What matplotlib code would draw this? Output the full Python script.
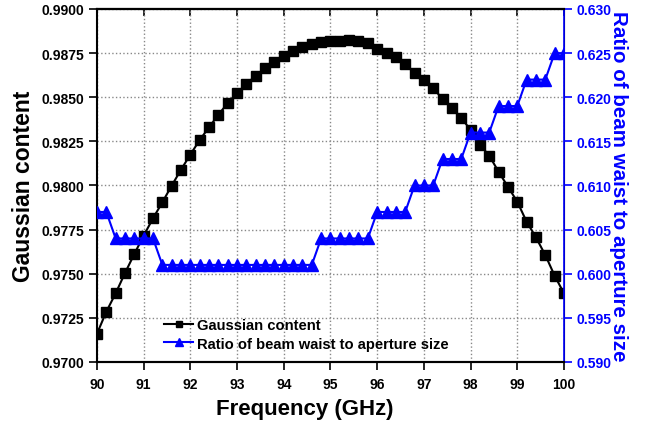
import matplotlib.pyplot as plt
import numpy as np

plt.rcParams['font.family'] = ['Liberation Sans', 'DejaVu Sans']
plt.rcParams['font.weight'] = 'bold'

# 频率 90-100 GHz, 步长 0.2
freq = np.round(np.arange(90, 100.01, 0.2), 1)

gauss = [0.9716, 0.97285, 0.97389, 0.97504, 0.97612, 0.97716, 0.97814, 0.97905, 0.97999, 0.98090,
         0.98175, 0.98258, 0.98330, 0.98401, 0.98467, 0.98524, 0.98575, 0.98622, 0.98663, 0.98700,
         0.98731, 0.98760, 0.98782, 0.98802, 0.98811, 0.98820, 0.98820, 0.98824, 0.98817, 0.98805,
         0.98773, 0.98751, 0.98726, 0.98688, 0.98637, 0.98599, 0.98552, 0.98490, 0.98440, 0.98383,
         0.98315, 0.98231, 0.98169, 0.98078, 0.97993, 0.97908, 0.97795, 0.97706, 0.97606, 0.97489,
         0.97389]

ratio = [0.607] * 2 + [0.604] * 5 + [0.601] * 17 + [0.604] * 6 + [0.607] * 4 + \
        [0.610] * 3 + [0.613] * 3 + [0.616] * 3 + [0.619] * 3 + [0.622] * 3 + [0.625] * 2

blue = '#0000ff'

fig = plt.figure(figsize=(6.57, 4.27), dpi=100)
ax = fig.add_axes([0.1476, 0.1499, 0.7108, 0.8267])
ax2 = ax.twinx()

l1, = ax.plot(freq, gauss, color='black', marker='s', markersize=6.5, lw=1.5,
              label='Gaussian content')
l2, = ax2.plot(freq, ratio, color=blue, marker='^', markersize=8, lw=1.5,
               label='Ratio of beam waist to aperture size')

ax.set_xlim(90, 100)
ax.set_ylim(0.97, 0.99)
ax2.set_ylim(0.59, 0.63)
ax.set_xticks(range(90, 101))
ax.set_yticks(np.arange(0.97, 0.99001, 0.0025))
ax.set_yticklabels(['%.4f' % v for v in np.arange(0.97, 0.99001, 0.0025)])
ax2.set_yticks(np.arange(0.59, 0.63001, 0.005))
ax2.set_yticklabels(['%.3f' % v for v in np.arange(0.59, 0.63001, 0.005)])

ax.grid(True, linestyle=':', color='#888888', lw=1)
ax.tick_params(axis='both', direction='out', length=6, width=1.2, labelsize=10, pad=3)
ax.tick_params(axis='x', pad=5)
ax2.tick_params(axis='y', direction='out', length=6, width=1.2, labelsize=10, pad=3,
                colors=blue)
for s in ['left', 'bottom', 'top']:
    ax.spines[s].set_linewidth(1.5)
ax2.spines['right'].set_color(blue)
ax2.spines['right'].set_linewidth(1.2)
ax2.spines['left'].set_visible(False)
ax2.spines['top'].set_linewidth(1.5)
ax2.spines['bottom'].set_linewidth(1.5)

top = ax.secondary_xaxis('top')
top.set_xticks(range(90, 101))
top.tick_params(direction='in', length=5, width=1.2, labeltop=False)
top.spines['top'].set_linewidth(1.5)

ax.set_xlabel('Frequency (GHz)', fontsize=16, fontweight='bold', labelpad=5, x=0.445)
ax.set_ylabel('Gaussian content', fontsize=16.5, fontweight='bold', labelpad=5)
ax2.set_ylabel('Ratio of beam waist to aperture size', fontsize=14.8, fontweight='bold',
               color=blue, rotation=270, labelpad=12)

ax.legend([l1, l2], [l1.get_label(), l2.get_label()], loc='lower left',
          bbox_to_anchor=(0.115, -0.005), frameon=False, fontsize=10.6,
          handlelength=2.0, handletextpad=0.25, labelspacing=0.3, markerscale=0.75)

fig.savefig('out.png', dpi=100)
